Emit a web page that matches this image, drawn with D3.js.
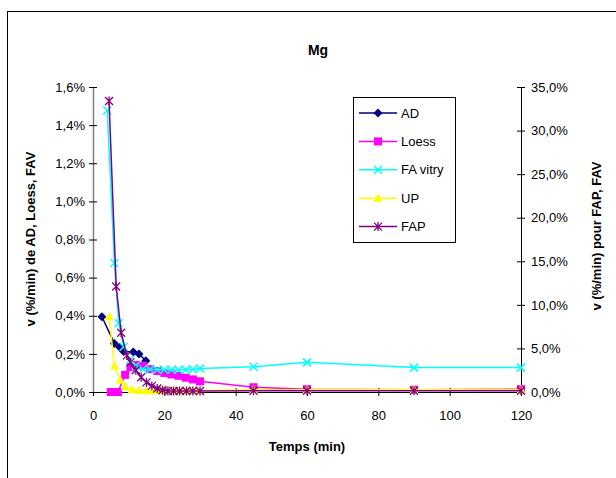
<!DOCTYPE html>
<html><head><meta charset="utf-8">
<script src="https://cdn.jsdelivr.net/npm/d3@7"></script>
<style>
html,body{margin:0;padding:0;background:#fff;}
svg{display:block;font-family:"Liberation Sans",Arial,sans-serif;}
</style></head>
<body>
<svg id="chart" width="616" height="478"></svg>
<script>
// ---- data (values in %/min) ----
const seriesNames = ["AD", "Loess", "FA vitry", "UP", "FAP"];
const xTicks = [0, 20, 40, 60, 80, 100, 120];
const yLeftTicks = [0, 0.2, 0.4, 0.6, 0.8, 1.0, 1.2, 1.4, 1.6];
const yRightTicks = [0, 5, 10, 15, 20, 25, 30, 35];

const adTime  = [2.5, 6, 7.5, 8.6, 11.3, 12.9, 14.8];
const adVal   = [0.395, 0.255, 0.235, 0.212, 0.21, 0.2, 0.164];

const loessTime = [5, 7, 9, 10.5, 12, 14, 16, 18, 20, 22, 24, 26, 28, 30, 45, 60, 90, 120];
const loessVal  = [0.0, 0.0, 0.09, 0.13, 0.142, 0.138, 0.12, 0.11, 0.1, 0.092, 0.085, 0.075, 0.066, 0.056, 0.025, 0.015, 0.012, 0.015];

const favTime = [4, 6, 7.2, 8.6, 10.5, 12, 14, 16, 18, 20, 22, 24, 26, 28, 30, 45, 60, 90, 120];
const favVal  = [32.3, 14.8, 7.9, 5.2, 3.7, 3.0, 2.6, 2.6, 2.55, 2.55, 2.55, 2.55, 2.55, 2.6, 2.7, 2.9, 3.4, 2.8, 2.8];

const upTime = [4.5, 6, 7.6, 9, 11, 13, 15, 17, 19, 21, 23, 25, 27, 29, 45, 60, 90, 120];
const upVal  = [0.395, 0.136, 0.063, 0.028, 0.012, 0.008, 0.006, 0.006, 0.006, 0.006, 0.006, 0.006, 0.006, 0.006, 0.012, 0.012, 0.012, 0.012];

const fapTime = [4.5, 6.5, 7.9, 9.5, 10.5, 12, 13.5, 15, 16.5, 18, 19.5, 21, 22.6, 24.3, 26.2, 28, 30, 45, 60, 90, 120];
const fapVal  = [33.4, 12.1, 6.8, 4.2, 3.4, 2.5, 1.7, 1.1, 0.7, 0.4, 0.2, 0.12, 0.12, 0.12, 0.12, 0.12, 0.12, 0.15, 0.15, 0.15, 0.15];

// ---- layout ----
const svg = d3.select("#chart");
const L = 93, R = 521, T = 87, B = 392;
const x = d3.scaleLinear().domain([0, 120]).range([L, R]);
const yL = d3.scaleLinear().domain([0, 1.6]).range([B, T]);
const yR = d3.scaleLinear().domain([0, 35]).range([B, T]);
const pct = d => d.toFixed(1).replace(".", ",") + "%";

// outer chart border
svg.append("rect").attr("x", 7.5).attr("y", 11.5).attr("width", 700).attr("height", 600)
  .attr("fill", "#fff").attr("stroke", "#000").attr("stroke-width", 1);

// title
svg.append("text").attr("x", 318).attr("y", 55).attr("text-anchor", "middle")
  .attr("font-size", 14).attr("font-weight", "bold").text("Mg");

// axes
const gx = svg.append("g").attr("transform", `translate(0,${B})`)
  .call(d3.axisBottom(x).tickValues(xTicks).tickSize(4).tickSizeOuter(0).tickFormat(d3.format("d")));
gx.select(".domain").attr("stroke", "#000");
gx.selectAll(".tick line").attr("y1", -4).attr("y2", 4).attr("stroke", "#000");
gx.selectAll(".tick text").attr("y", 19).attr("dy", "0.71em").attr("font-size", 13)
  .attr("font-family", "Liberation Sans, Arial, sans-serif").attr("fill", "#000");

const gl = svg.append("g").attr("transform", `translate(${L},0)`)
  .call(d3.axisLeft(yL).tickValues(yLeftTicks).tickSize(4).tickSizeOuter(0).tickFormat(pct));
gl.select(".domain").attr("stroke", "#808080").attr("stroke-width", 1.5);
gl.selectAll(".tick line").attr("x1", -4).attr("x2", 4).attr("stroke", "#000");
gl.selectAll(".tick text").attr("x", -8).attr("font-size", 13)
  .attr("font-family", "Liberation Sans, Arial, sans-serif").attr("fill", "#000");

const gr = svg.append("g").attr("transform", `translate(${R},0)`)
  .call(d3.axisRight(yR).tickValues(yRightTicks).tickSize(4).tickSizeOuter(0).tickFormat(pct));
gr.select(".domain").attr("stroke", "#000");
gr.selectAll(".tick line").attr("x1", -4).attr("x2", 4).attr("stroke", "#000");
gr.selectAll(".tick text").attr("x", 10).attr("font-size", 13)
  .attr("font-family", "Liberation Sans, Arial, sans-serif").attr("fill", "#000");

// axis titles
svg.append("text").attr("x", 307).attr("y", 451).attr("text-anchor", "middle")
  .attr("font-size", 13).attr("font-weight", "bold").text("Temps (min)");
svg.append("text").attr("transform", "translate(35,239) rotate(-90)").attr("text-anchor", "middle")
  .attr("font-size", 13).attr("font-weight", "bold").text("v (%/min) de AD, Loess,  FAV");
svg.append("text").attr("transform", "translate(601,236) rotate(-90)").attr("text-anchor", "middle")
  .attr("font-size", 13).attr("font-weight", "bold").text("v (%/min) pour FAP, FAV");

// marker drawing
function marker(g, type, color, cx, cy) {
  if (type === "diamond") {
    g.append("path").attr("d", `M${cx},${cy-4.5}L${cx+4.5},${cy}L${cx},${cy+4.5}L${cx-4.5},${cy}Z`).attr("fill", color);
  } else if (type === "square") {
    g.append("rect").attr("x", cx-4).attr("y", cy-4).attr("width", 8).attr("height", 8).attr("fill", color);
  } else if (type === "x") {
    g.append("path").attr("d", `M${cx-4},${cy-4}L${cx+4},${cy+4}M${cx-4},${cy+4}L${cx+4},${cy-4}`)
      .attr("stroke", color).attr("stroke-width", 1.5).attr("fill", "none");
  } else if (type === "triangle") {
    g.append("path").attr("d", `M${cx},${cy-5}L${cx+4.5},${cy+3.5}L${cx-4.5},${cy+3.5}Z`).attr("fill", color);
  } else if (type === "star") {
    g.append("path").attr("d", `M${cx-4},${cy-4}L${cx+4},${cy+4}M${cx-4},${cy+4}L${cx+4},${cy-4}M${cx},${cy-4.5}L${cx},${cy+4.5}`)
      .attr("stroke", color).attr("stroke-width", 1.3).attr("fill", "none");
  }
}

const series = [
  {name: seriesNames[0], t: adTime, v: adVal, y: yL, color: "#000080", m: "diamond"},
  {name: seriesNames[1], t: loessTime, v: loessVal, y: yL, color: "#FF00FF", m: "square"},
  {name: seriesNames[2], t: favTime, v: favVal, y: yR, color: "#00FFFF", m: "x"},
  {name: seriesNames[3], t: upTime, v: upVal, y: yL, color: "#FFFF00", m: "triangle"},
  {name: seriesNames[4], t: fapTime, v: fapVal, y: yR, color: "#800080", m: "star"}
];

const plot = svg.append("g");
series.forEach(s => {
  const pts = s.t.map((t, i) => [x(t), s.y(s.v[i])]);
  const g = plot.append("g");
  g.append("path").attr("d", d3.line()(pts)).attr("fill", "none")
    .attr("stroke", s.color).attr("stroke-width", 1.5);
  pts.forEach(p => marker(g, s.m, s.color, p[0], p[1]));
});

// legend
const lg = svg.append("g");
lg.append("rect").attr("x", 353.5).attr("y", 97.5).attr("width", 102).attr("height", 145)
  .attr("fill", "#fff").attr("stroke", "#000");
series.forEach((s, i) => {
  const cy = 113 + i * 28.4;
  lg.append("line").attr("x1", 359).attr("x2", 397).attr("y1", cy).attr("y2", cy)
    .attr("stroke", s.color).attr("stroke-width", 1.5);
  marker(lg, s.m, s.color, 378, cy);
  lg.append("text").attr("x", 401).attr("y", cy).attr("dy", "0.35em")
    .attr("font-size", 13).text(s.name);
});
</script>
</body></html>
